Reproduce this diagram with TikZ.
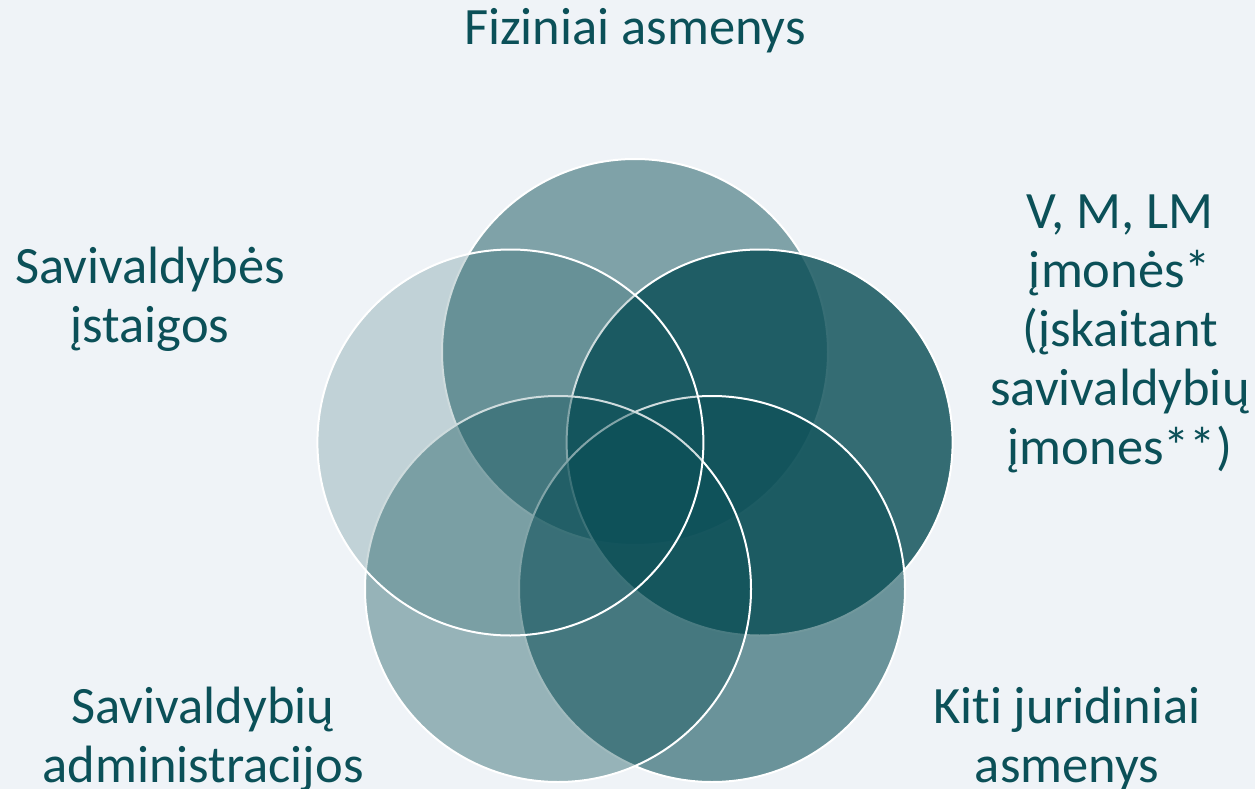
\documentclass[tikz,border=0pt]{standalone}
\usepackage{fontspec}
\setmainfont{Carlito}[Ligatures=NoCommon]
\definecolor{bgc}{HTML}{EFF3F7}
\definecolor{vteal}{HTML}{0B4F57}
\definecolor{vtext}{HTML}{0B5058}
\begin{document}
\begin{tikzpicture}[x=1pt,y=-1pt,
  venn/.style={circle, inner sep=0pt, minimum size=386pt, fill=vteal, draw=white, line width=2pt},
  lbl/.style={text=vtext, font=\fontsize{52.5}{59}\selectfont, align=center, anchor=base, inner sep=0pt}]
\fill[bgc] (0,0) rectangle (1255,789);
\useasboundingbox (0,0) rectangle (1255,789);
\node[venn, fill opacity=0.49] (ctop) at (635,352) {};
\node[venn, fill opacity=0.82] (cright) at (759.6,442.5) {};
\node[venn, fill opacity=0.58] (cbr) at (712,589) {};
\node[venn, fill opacity=0.39] (cbl) at (558,589) {};
\node[venn, fill opacity=0.20] (cleft) at (510.4,442.5) {};
\node[lbl] (ltop) at (635,45) {Fiziniai asmenys};
\node[lbl] (lright) at (1120,464) {V, M, LM\\įmonės*\\(įskaitant\\savivaldybių\\įmones**)};
\node[lbl] (lleft) at (150,342) {Savivaldybės\\įstaigos};
\node[lbl] (lbl) at (203,782) {Savivaldybių\\administracijos};
\node[lbl] (lbr) at (1067,782) {Kiti juridiniai\\asmenys};
\end{tikzpicture}
\end{document}
